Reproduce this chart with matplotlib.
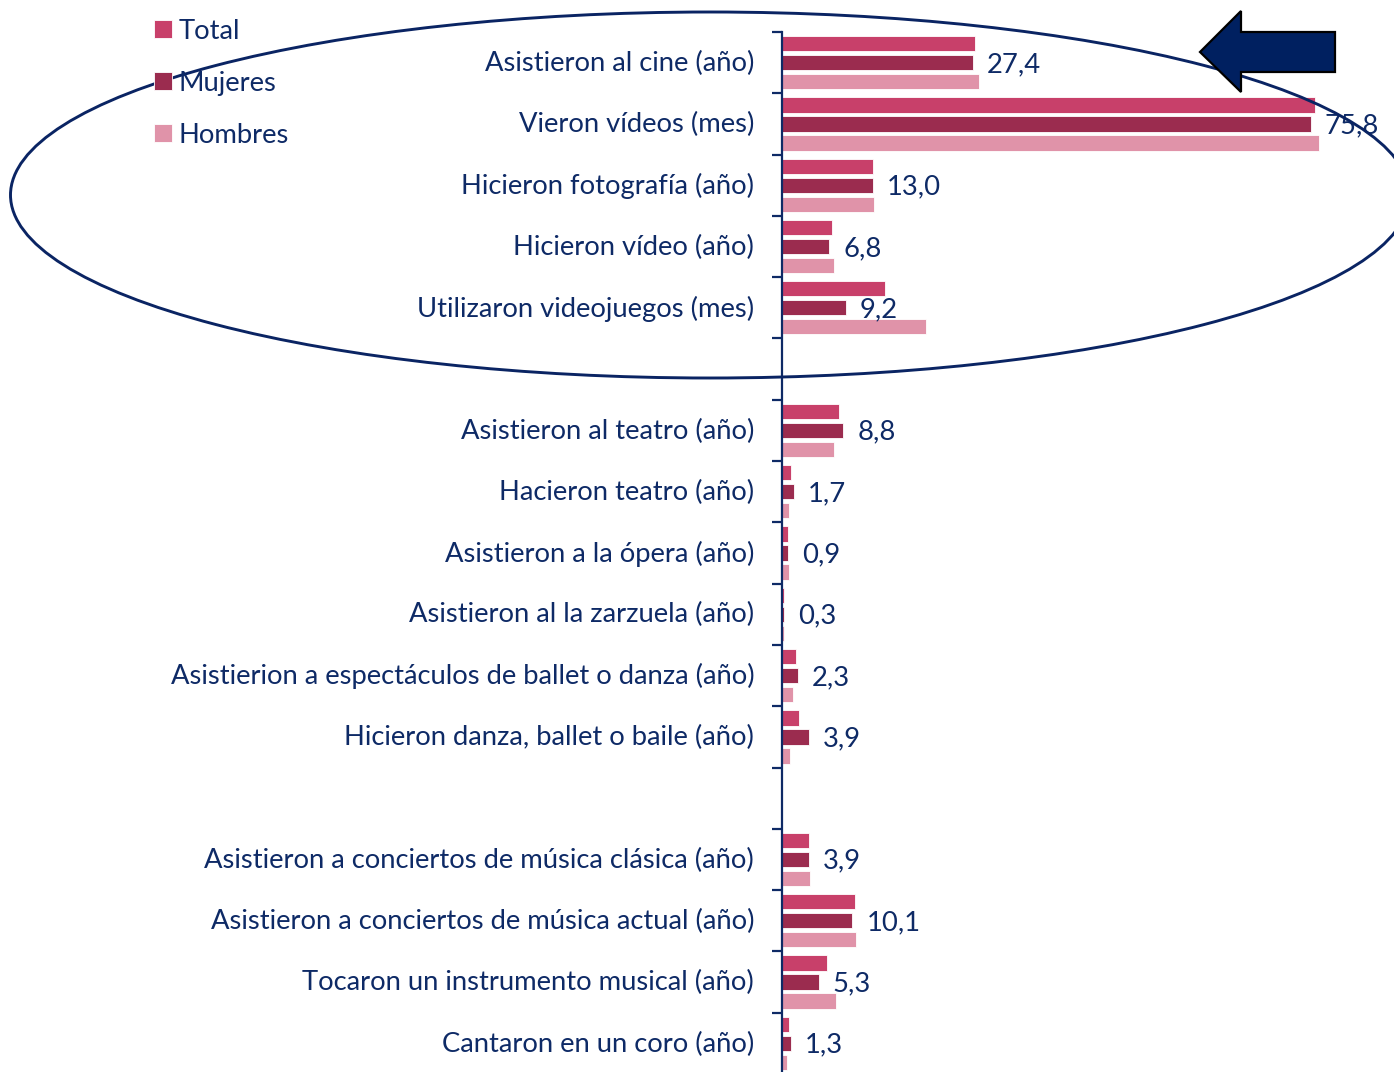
import matplotlib.pyplot as plt
import numpy as np
from matplotlib.patches import Ellipse, Polygon

#----------------------------------------------------------------#
# datos
categorias = [
    "Asistieron al cine (año)",
    "Vieron vídeos (mes)",
    "Hicieron fotografía (año)",
    "Hicieron vídeo (año)",
    "Utilizaron videojuegos (mes)",
    "Asistieron al teatro (año)",
    "Hacieron teatro (año)",
    "Asistieron a la ópera (año)",
    "Asistieron al la zarzuela (año)",
    "Asistierion a espectáculos de ballet o danza (año)",
    "Hicieron danza, ballet o baile (año)",
    "Asistieron a conciertos de música clásica (año)",
    "Asistieron a conciertos de música actual (año)",
    "Tocaron un instrumento musical (año)",
    "Cantaron en un coro (año)",
]
grupos = [5, 6, 4]
total = [27.7, 76.4, 13.1, 7.1, 14.8, 8.1, 1.25, 0.9, 0.33, 2.0, 2.5, 3.9, 10.4, 6.5, 1.0]
mujeres = [27.4, 75.8, 13.0, 6.8, 9.2, 8.8, 1.7, 0.9, 0.3, 2.3, 3.9, 3.9, 10.1, 5.3, 1.3]
hombres = [28.2, 76.9, 13.2, 7.4, 20.7, 7.5, 0.96, 1.0, 0.3, 1.6, 1.1, 4.0, 10.6, 7.8, 0.7]

series = ["Total", "Mujeres", "Hombres"]
colores = ["#c8406a", "#9b2c4f", "#e093a9"]
navy = "#0e2a66"

plt.rcParams['font.family'] = ['Lato', 'DejaVu Sans']
fs = 19.7

#----------------------------------------------------------------#
# posiciones: un hueco entre grupos
pos = []
k = 0
for g in grupos:
    pos.extend(range(k, k + g))
    k += g + 1
nslots = k - 1
pos = np.array(pos) + 0.5

W, H = 1394, 1072
fig = plt.figure(figsize=(W / 100, H / 100), dpi=100)
x0, ytop, ybot = 782, 32, 1074
ax = fig.add_axes([x0 / W, 1 - ybot / H, 1 - x0 / W, (ybot - ytop) / H])

pitch, bh = 0.31, 0.25
bars = []
for i, (vals, name, c) in enumerate(zip([total, mujeres, hombres], series, colores)):
    b = ax.barh(pos + (i - 1) * pitch, vals, height=bh, color=c, label=name,
                edgecolor="white", linewidth=0.6)
    bars.append(b)

for p, v in zip(pos, mujeres):
    ax.annotate(f"{v:.1f}".replace(".", ","), (v, p + 0.03), xytext=(10, 0),
                textcoords="offset points", va="center", ha="left",
                fontsize=fs, color=navy)

ax.set_xlim(0, (W - x0) / 6.98)
ax.set_ylim(nslots, 0)
ax.set_yticks(np.arange(0, nslots + 1))
ax.set_yticklabels([])
ax.set_yticks(pos - 0.03, minor=True)
ax.set_yticklabels(categorias, minor=True, fontsize=fs, color=navy)
ax.tick_params(axis="y", which="major", length=7, width=1.6, color=navy, direction="out")
ax.tick_params(axis="y", which="minor", length=0, pad=20)
ax.set_xticks([])
for s in ["top", "right", "bottom"]:
    ax.spines[s].set_visible(False)
ax.spines["left"].set_color(navy)
ax.spines["left"].set_linewidth(1.6)

leg = fig.legend(handles=bars, labels=series, loc="upper left",
                 bbox_to_anchor=(143 / W, 1 - 8 / H), frameon=False,
                 fontsize=fs, handlelength=0.65, handleheight=0.65,
                 handletextpad=0.25, labelspacing=0.98, borderaxespad=0)
for t in leg.get_texts():
    t.set_color(navy)

#----------------------------------------------------------------#
# elipse y flecha encima
ov = fig.add_axes([0, 0, 1, 1], facecolor="none")
ov.set_xlim(0, W)
ov.set_ylim(H, 0)
ov.axis("off")
ov.add_patch(Ellipse((710, 195), 1399, 366, fill=False, edgecolor="#0a2463", linewidth=2.1))
flecha = [(1200, 52), (1241, 11), (1241, 32), (1335, 32), (1335, 72), (1241, 72), (1241, 92)]
ov.add_patch(Polygon(flecha, closed=True, facecolor="#002060", edgecolor="black", linewidth=1.6))

fig.savefig("out.png", dpi=100)
